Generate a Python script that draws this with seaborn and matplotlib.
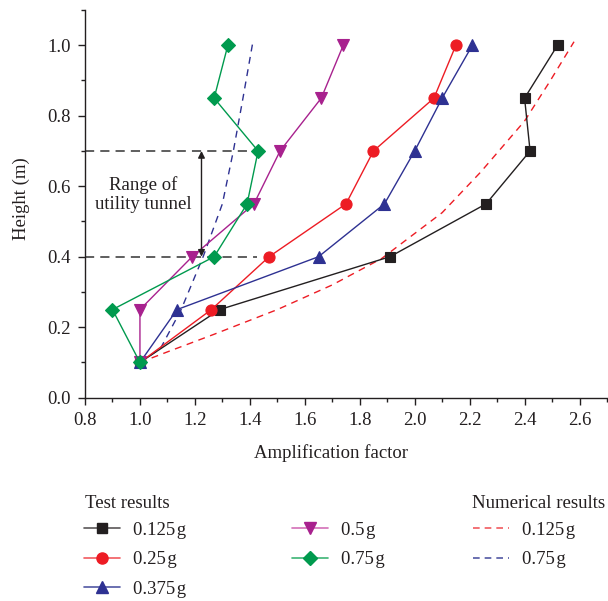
import numpy as np
import pandas as pd
import matplotlib
matplotlib.use("Agg")
import matplotlib.pyplot as plt
import seaborn as sns
from matplotlib.lines import Line2D
from matplotlib.ticker import MultipleLocator, FormatStrFormatter

# ---------------- data ----------------
heights = [0.1, 0.25, 0.4, 0.55, 0.7, 0.85, 1.0]
amp_0125 = [1.0, 1.29, 1.91, 2.26, 2.42, 2.40, 2.52]
amp_025 = [1.0, 1.26, 1.47, 1.75, 1.85, 2.07, 2.15]
amp_0375 = [1.0, 1.135, 1.65, 1.89, 2.0, 2.10, 2.21]
amp_05 = [1.0, 1.0, 1.19, 1.415, 1.51, 1.66, 1.74]
amp_075 = [1.0, 0.90, 1.27, 1.39, 1.43, 1.27, 1.32]

num_0125_amp = [1.0, 1.10, 1.27, 1.50, 1.70, 1.88, 2.10, 2.24, 2.40, 2.49, 2.58]
num_0125_h = [0.10, 0.13, 0.18, 0.25, 0.32, 0.395, 0.525, 0.64, 0.785, 0.895, 1.01]
num_075_amp = [1.0, 1.075, 1.15, 1.23, 1.30, 1.34, 1.375, 1.41]
num_075_h = [0.10, 0.14, 0.25, 0.40, 0.55, 0.70, 0.85, 1.005]

test_labels = ["0.125\u200ag", "0.25\u200ag", "0.375\u200ag", "0.5\u200ag", "0.75\u200ag"]
num_labels = ["0.125\u200ag", "0.75\u200ag"]
x_ticks = [0.8, 1.0, 1.2, 1.4, 1.6, 1.8, 2.0, 2.2, 2.4, 2.6]
y_ticks = [0.0, 0.2, 0.4, 0.6, 0.8, 1.0]

# ---------------- style ----------------
sns.set_theme(style="ticks")
plt.rcParams["font.family"] = ["Liberation Serif", "DejaVu Serif"]
plt.rcParams["axes.edgecolor"] = "#231f20"
plt.rcParams["axes.linewidth"] = 1.0

colors = ["#231f20", "#ed1c24", "#2e3192", "#a8218e", "#009a4e"]
light = ["#5a5657", "#f15a5f", "#5257a3", "#d36fb8", "#3cb474"]
markers = ["s", "o", "^", "v", "D"]
msizes = [7, 8, 8.5, 8.5, 7]
series = [amp_0125, amp_025, amp_0375, amp_05, amp_075]

fig = plt.figure(figsize=(6.08, 6.01), dpi=100)
ax = fig.add_axes([85 / 608, 1 - 397.7 / 601, 522 / 608, 387.7 / 601])

for amps, lab, c, m, ms in zip(series, test_labels, colors, markers, msizes):
    df = pd.DataFrame({"amp": amps, "h": heights})
    sns.lineplot(data=df, x="amp", y="h", orient="y", estimator=None, sort=False,
                 color=c, marker=m, markersize=ms, markeredgecolor=c,
                 markeredgewidth=0.8, linewidth=1.0, ax=ax, legend=False, zorder=3)

df_n1 = pd.DataFrame({"amp": num_0125_amp, "h": num_0125_h})
sns.lineplot(data=df_n1, x="amp", y="h", orient="y", estimator=None, sort=False,
             color="#ed1c24", linewidth=1.0, dashes=False, ax=ax, legend=False, zorder=2)
df_n2 = pd.DataFrame({"amp": num_075_amp, "h": num_075_h})
sns.lineplot(data=df_n2, x="amp", y="h", orient="y", estimator=None, sort=False,
             color="#2e3192", linewidth=1.0, dashes=False, ax=ax, legend=False, zorder=2)
for ln in ax.lines[-2:]:
    ln.set_linestyle((0, (5, 4)))

# Annotation: range of utility tunnel
ax.plot([0.8, 1.445], [0.7, 0.7], color="#333333", lw=1.1, ls=(0, (6, 4)), zorder=1)
ax.plot([0.8, 1.425], [0.4, 0.4], color="#333333", lw=1.1, ls=(0, (6, 4)), zorder=1)
ax.annotate("", xy=(1.224, 0.7), xytext=(1.224, 0.4),
            arrowprops=dict(arrowstyle="<|-|>", color="#231f20", lw=1.0,
                            mutation_scale=10, shrinkA=0, shrinkB=0), zorder=4)
ax.text(1.011, 0.576, "Range of\nutility tunnel", ha="center", va="center",
        fontsize=13.5, color="#231f20", linespacing=1.2)

ax.set_xlim(0.8, 2.7)
ax.set_ylim(0.0, 1.1)
ax.set_xticks(x_ticks)
ax.set_yticks(y_ticks)
ax.xaxis.set_minor_locator(MultipleLocator(0.1))
ax.yaxis.set_minor_locator(MultipleLocator(0.1))
ax.xaxis.set_major_formatter(FormatStrFormatter("%.1f"))
ax.yaxis.set_major_formatter(FormatStrFormatter("%.1f"))
ax.tick_params(which="major", direction="out", length=5, width=1.0,
               labelsize=13.5, colors="#231f20", pad=5)
ax.tick_params(which="minor", direction="out", length=3, width=1.0, colors="#231f20")
for s in ["top", "right"]:
    ax.spines[s].set_visible(False)

ax.set_xlabel("Amplification factor", fontsize=13.5, color="#231f20")
ax.xaxis.set_label_coords(0.472, -0.12)
ax.set_ylabel("Height (m)", fontsize=13.5, color="#231f20")
ax.yaxis.set_label_coords(-0.105, 0.5125)

# ---------------- legends ----------------
def handle(i):
    return Line2D([], [], color=light[i], lw=1.2, marker=markers[i], markersize=msizes[i],
                  markerfacecolor=colors[i], markeredgecolor=colors[i])

common = dict(frameon=False, fontsize=13.5, handlelength=1.9,
              handletextpad=0.7, labelspacing=0.66, borderpad=0, borderaxespad=0,
              loc="upper left")

fig.text(85 / 608, 1 - 503 / 601, "Test results", ha="left", va="center",
         fontsize=13.5, color="#231f20")
fig.text(472 / 608, 1 - 503 / 601, "Numerical results", ha="left", va="center",
         fontsize=13.5, color="#231f20")

leg1 = fig.legend([handle(0), handle(1), handle(2)], test_labels[:3],
                  bbox_to_anchor=(84 / 608, 1 - 521.5 / 601), **common)
leg2 = fig.legend([handle(3), handle(4)], test_labels[3:],
                  bbox_to_anchor=(292 / 608, 1 - 521.5 / 601), **common)
num_handles = [Line2D([], [], color="#f15a5f", lw=1.2, ls=(0, (4, 3))),
               Line2D([], [], color="#5257a3", lw=1.2, ls=(0, (4, 3)))]
leg3 = fig.legend(num_handles, num_labels,
                  bbox_to_anchor=(473 / 608, 1 - 521.5 / 601), **common)
for lg in (leg1, leg2, leg3):
    for t in lg.get_texts():
        t.set_color("#231f20")

fig.savefig("out.png", dpi=100)
